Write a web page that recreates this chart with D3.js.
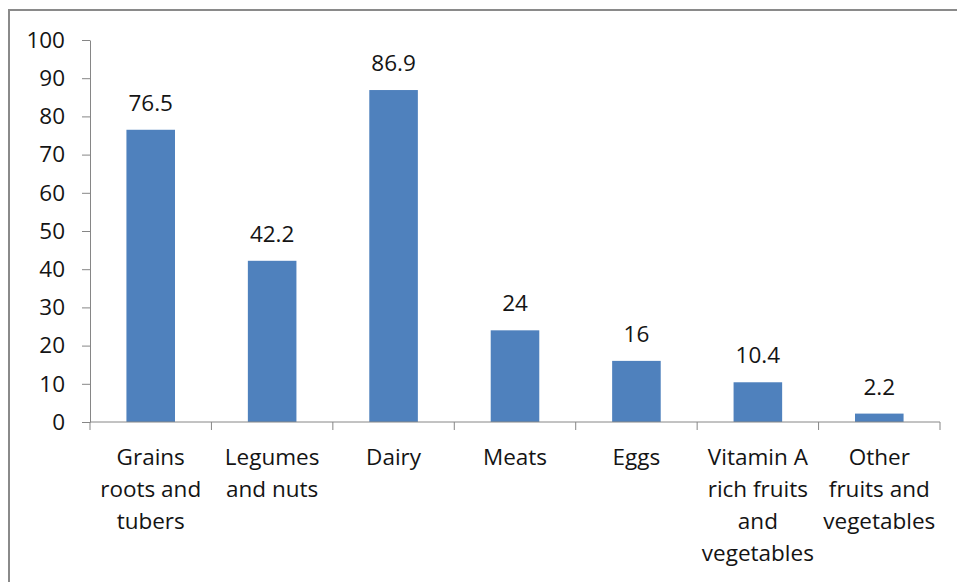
<!DOCTYPE html>
<html>
<head>
<meta charset="utf-8">
<script src="https://cdn.jsdelivr.net/npm/d3@7"></script>
<style>
  html, body { margin: 0; padding: 0; background: #fff; }
  svg { display: block; font-family: "Open Sans", sans-serif; }
</style>
</head>
<body>
<script>
// data
const categories = [
  "Grains roots and tubers",
  "Legumes and nuts",
  "Dairy",
  "Meats",
  "Eggs",
  "Vitamin A rich fruits and vegetables",
  "Other fruits and vegetables"
];
const labelLines = [
  ["Grains", "roots and", "tubers"],
  ["Legumes", "and nuts"],
  ["Dairy"],
  ["Meats"],
  ["Eggs"],
  ["Vitamin A", "rich fruits", "and", "vegetables"],
  ["Other", "fruits and", "vegetables"]
];
const values = [76.5, 42.2, 86.9, 24, 16, 10.4, 2.2];
const yTicks = [0, 10, 20, 30, 40, 50, 60, 70, 80, 90, 100];

const width = 957, height = 582;
const margin = { top: 40, right: 17, bottom: 160, left: 90 };
const axisColor = "#868686";
const barColor = "#4F81BD";
const fontSize = 22.5;

const svg = d3.select("body").append("svg")
  .attr("width", width)
  .attr("height", height);

// outer frame (only top and left visible in the crop)
svg.append("path")
  .attr("d", `M9,${height} V10 H${width}`)
  .attr("fill", "none")
  .attr("stroke", "#8a8a8a")
  .attr("stroke-width", 2);

const x = d3.scaleBand()
  .domain(categories)
  .range([margin.left, width - margin.right])
  .padding(0);

const y = d3.scaleLinear()
  .domain([0, 100])
  .range([height - margin.bottom, margin.top]);

const barW = x.bandwidth() * 0.4;

// bars
svg.append("g")
  .selectAll("rect")
  .data(values)
  .join("rect")
  .attr("x", (d, i) => x(categories[i]) + (x.bandwidth() - barW) / 2)
  .attr("y", d => y(d))
  .attr("width", barW)
  .attr("height", d => y(0) - y(d))
  .attr("fill", barColor);

// value labels
svg.append("g")
  .selectAll("text")
  .data(values)
  .join("text")
  .attr("x", (d, i) => x(categories[i]) + x.bandwidth() / 2)
  .attr("y", d => y(d) - 19)
  .attr("text-anchor", "middle")
  .attr("font-size", fontSize)
  .attr("fill", "#141414")
  .text(d => d);

// y axis
const yAxis = svg.append("g")
  .attr("transform", `translate(${margin.left},0)`)
  .call(d3.axisLeft(y).tickValues(yTicks).tickSize(8).tickPadding(17).tickSizeOuter(0));
yAxis.select(".domain").attr("stroke", axisColor);
yAxis.selectAll(".tick line").attr("stroke", axisColor);
yAxis.selectAll(".tick text")
  .attr("font-size", fontSize)
  .attr("font-family", "Open Sans, sans-serif")
  .attr("fill", "#141414");

// x axis: ticks sit on the band boundaries
const xAxis = svg.append("g")
  .attr("transform", `translate(0,${y(0)})`);
xAxis.append("line")
  .attr("x1", x.range()[0])
  .attr("x2", x.range()[1])
  .attr("stroke", axisColor);
const bounds = categories.map(c => x(c)).concat([x.range()[1]]);
xAxis.selectAll(".sep")
  .data(bounds)
  .join("line")
  .attr("class", "sep")
  .attr("x1", d => d).attr("x2", d => d)
  .attr("y1", 0).attr("y2", 8)
  .attr("stroke", axisColor);

// category labels, wrapped as in the picture
const lab = svg.append("g")
  .selectAll("text")
  .data(labelLines)
  .join("text")
  .attr("text-anchor", "middle")
  .attr("font-size", fontSize)
  .attr("fill", "#141414")
  .attr("transform", (d, i) => `translate(${x(categories[i]) + x.bandwidth() / 2},${y(0) + 43})`);
lab.selectAll("tspan")
  .data(d => d)
  .join("tspan")
  .attr("x", 0)
  .attr("y", (d, j) => j * 32)
  .text(d => d);
</script>
</body>
</html>
